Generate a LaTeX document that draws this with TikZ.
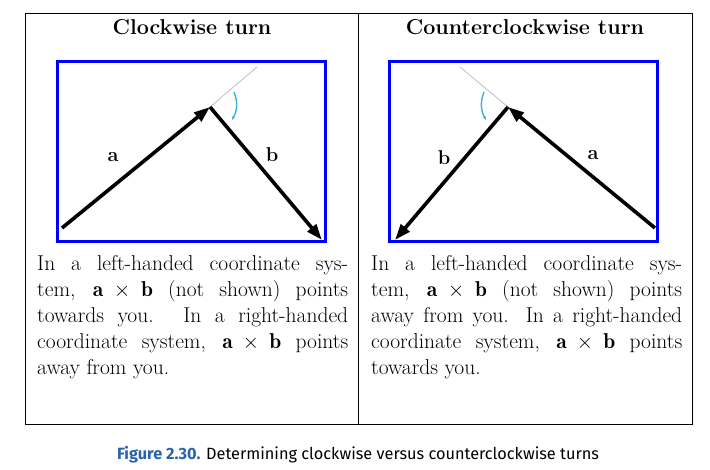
\documentclass[tikz,border=0pt]{standalone}
\usepackage{fontspec}
\newfontfamily\capfont{Fira Sans}
\usetikzlibrary{arrows.meta}
\definecolor{capblue}{RGB}{40,100,170}
\definecolor{turncyan}{RGB}{60,180,220}
\begin{document}
\begin{tikzpicture}[x=1pt,y=-1pt,
  vec/.style={line width=3.6pt,-{Triangle[length=16pt,width=11pt]}},
  frame/.style={draw=blue,line width=3pt},
  ghost/.style={draw=black!25,line width=0.8pt},
  turn/.style={draw=turncyan,line width=1.4pt,-{Stealth[length=4pt]}},
  title/.style={font=\fontsize{21.5}{24}\selectfont\bfseries},
  lbl/.style={font=\fontsize{20}{22}\selectfont\bfseries},
  para/.style={anchor=north west,text width=311pt,align=justify,inner sep=0pt,
    font=\fontsize{21.5}{26}\selectfont}]
  \useasboundingbox (0,0) rectangle (710,470);
  \draw[line width=0.6pt] (25,13) rectangle (692,424);
  \draw[line width=0.6pt] (358,13) -- (358,424);
  % left panel
  \node[title] (lt) at (192,27) {Clockwise turn};
  \draw[frame] (57,62) rectangle (325,242);
  \coordinate (ltip) at (210,107);
  \coordinate (la0) at (62,228);
  \coordinate (lb1) at (322,240);
  \coordinate (lg) at (257,67);
  \draw[ghost] (ltip) -- (lg);
  \draw[vec] (la0) -- (ltip);
  \draw[vec] (ltip) -- (lb1);
  \draw[turn] (234,92) to[bend left=25] (232,120);
  \node[lbl] (la) at (113,157) {a};
  \node[lbl] (lb) at (272,155) {b};
  \node[para] (ltext) at (37,255) {In a left-handed coordinate sys-\linebreak
    tem, $\mathbf{a}\times\mathbf{b}$ (not shown) points\linebreak
    towards you. In a right-handed\linebreak
    coordinate system, $\mathbf{a}\times\mathbf{b}$ points\linebreak
    away from you.};
  % right panel
  \node[title] (rt) at (525,27) {Counterclockwise turn};
  \draw[frame] (389,62) rectangle (657,242);
  \coordinate (rtip) at (508,107);
  \coordinate (ra0) at (655,228);
  \coordinate (rb1) at (395,240);
  \coordinate (rg) at (460,67);
  \draw[ghost] (rtip) -- (rg);
  \draw[vec] (ra0) -- (rtip);
  \draw[vec] (rtip) -- (rb1);
  \draw[turn] (484,92) to[bend right=25] (486,120);
  \node[lbl] (rb) at (444,158) {b};
  \node[lbl] (ra) at (593,155) {a};
  \node[para] (rtext) at (371,255) {In a left-handed coordinate sys-\linebreak
    tem, $\mathbf{a}\times\mathbf{b}$ (not shown) points\linebreak
    away from you. In a right-handed\linebreak
    coordinate system, $\mathbf{a}\times\mathbf{b}$ points\linebreak
    towards you.};
  % caption
  \node[font=\capfont\fontsize{16.3}{19}\selectfont] (cap) at (358,455)
    {\textcolor{capblue}{\bfseries Figure 2.30.} Determining clockwise versus counterclockwise turns};
\end{tikzpicture}
\end{document}
